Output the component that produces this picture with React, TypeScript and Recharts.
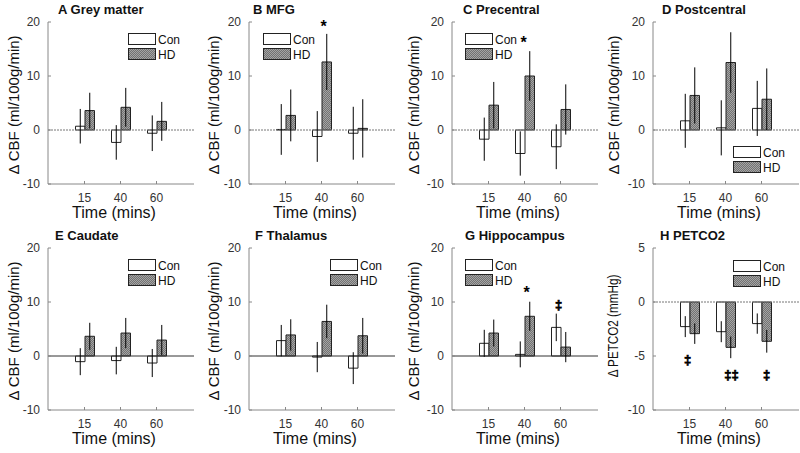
import React from 'react';
import { BarChart, Bar, XAxis, YAxis, ErrorBar, ReferenceLine, ReferenceDot } from 'recharts';

const FONT = '"Liberation Sans", Arial, Helvetica, sans-serif';

const times = ['15', '40', '60'];
const cbfTicks = [-10, 0, 10, 20];
const petTicks = [-10, -5, 0, 5];

// A Grey matter
const greyCon = [0.7, -2.3, -0.6];
const greyConErr = [3.2, 3.2, 3.3];
const greyHd = [3.6, 4.2, 1.6];
const greyHdErr = [3.3, 3.6, 3.6];
// B MFG
const mfgCon = [0.1, -1.2, -0.6];
const mfgConErr = [4.7, 4.7, 4.9];
const mfgHd = [2.7, 12.6, 0.3];
const mfgHdErr = [4.8, 5.2, 5.4];
// C Precentral
const preCon = [-1.7, -4.35, -3.1];
const preConErr = [4.0, 4.1, 4.15];
const preHd = [4.6, 10.0, 3.8];
const preHdErr = [4.3, 4.6, 4.65];
// D Postcentral
const postCon = [1.7, 0.4, 4.0];
const postConErr = [5.0, 5.1, 5.1];
const postHd = [6.4, 12.5, 5.7];
const postHdErr = [5.2, 5.6, 5.7];
// E Caudate
const caudCon = [-1.05, -0.85, -1.3];
const caudConErr = [2.5, 2.55, 2.6];
const caudHd = [3.65, 4.25, 2.95];
const caudHdErr = [2.5, 2.8, 2.8];
// F Thalamus
const thalCon = [2.85, -0.2, -2.25];
const thalConErr = [2.9, 2.8, 2.95];
const thalHd = [3.9, 6.4, 3.75];
const thalHdErr = [2.9, 3.1, 3.3];
// G Hippocampus
const hipCon = [2.35, 0.3, 5.3];
const hipConErr = [2.5, 2.4, 2.55];
const hipHd = [4.25, 7.35, 1.65];
const hipHdErr = [2.5, 2.7, 2.8];
// H PETCO2
const petCon = [-2.28, -2.75, -2.0];
const petConErr = [0.97, 0.97, 0.94];
const petHd = [-2.93, -4.2, -3.64];
const petHdErr = [0.95, 1.0, 1.05];

// significance markers: category, value, symbol
const mfgMarks = [{ t: '40', v: 19.8, s: '*' }];
const preMarks = [{ t: '40', v: 16.85, s: '*' }];
const hipMarks = [{ t: '40', v: 12.4, s: '*' }, { t: '60', v: 9.45, s: '‡' }];
const petMarks = [{ t: '15', v: -5.34, s: '‡' }, { t: '40', v: -6.8, s: '‡‡' }, { t: '60', v: -6.8, s: '‡' }];

type Mark = { t: string; v: number; s: string };
type Panel = {
  title: string;
  con: number[]; conErr: number[]; hd: number[]; hdErr: number[];
  yLabel: string; yLabelScale: number;
  domain: [number, number]; ticks: number[];
  marks: Mark[];
  layout: { titleX: number; left: number; legend: [number, number]; zeroSolid: boolean; markDx: number[]; labelDy: number };
};

const cbf = 'Δ CBF (ml/100g/min)';

const panels: Panel[] = [
  { title: 'A Grey matter', con: greyCon, conErr: greyConErr, hd: greyHd, hdErr: greyHdErr, yLabel: cbf, yLabelScale: 1, domain: [-10, 20], ticks: cbfTicks, marks: [],
    layout: { titleX: 58, left: 48, legend: [128, 33], zeroSolid: false, markDx: [], labelDy: 2 } },
  { title: 'B MFG', con: mfgCon, conErr: mfgConErr, hd: mfgHd, hdErr: mfgHdErr, yLabel: cbf, yLabelScale: 1, domain: [-10, 20], ticks: cbfTicks, marks: mfgMarks,
    layout: { titleX: 53, left: 49, legend: [63, 33], zeroSolid: false, markDx: [2], labelDy: 2 } },
  { title: 'C Precentral', con: preCon, conErr: preConErr, hd: preHd, hdErr: preHdErr, yLabel: cbf, yLabelScale: 1, domain: [-10, 20], ticks: cbfTicks, marks: preMarks,
    layout: { titleX: 63, left: 52, legend: [65, 33], zeroSolid: false, markDx: [-1], labelDy: 2 } },
  { title: 'D Postcentral', con: postCon, conErr: postConErr, hd: postHd, hdErr: postHdErr, yLabel: cbf, yLabelScale: 1, domain: [-10, 20], ticks: cbfTicks, marks: [],
    layout: { titleX: 62, left: 53, legend: [133, 146], zeroSolid: false, markDx: [], labelDy: 2 } },
  { title: 'E Caudate', con: caudCon, conErr: caudConErr, hd: caudHd, hdErr: caudHdErr, yLabel: cbf, yLabelScale: 1, domain: [-10, 20], ticks: cbfTicks, marks: [],
    layout: { titleX: 55, left: 48, legend: [128, 33], zeroSolid: true, markDx: [], labelDy: 2 } },
  { title: 'F Thalamus', con: thalCon, conErr: thalConErr, hd: thalHd, hdErr: thalHdErr, yLabel: cbf, yLabelScale: 1, domain: [-10, 20], ticks: cbfTicks, marks: [],
    layout: { titleX: 55, left: 49, legend: [130, 33], zeroSolid: true, markDx: [], labelDy: 2 } },
  { title: 'G Hippocampus', con: hipCon, conErr: hipConErr, hd: hipHd, hdErr: hipHdErr, yLabel: cbf, yLabelScale: 1, domain: [-10, 20], ticks: cbfTicks, marks: hipMarks,
    layout: { titleX: 65, left: 52, legend: [65, 33], zeroSolid: true, markDx: [2, -2], labelDy: 2 } },
  { title: 'H PETCO2', con: petCon, conErr: petConErr, hd: petHd, hdErr: petHdErr, yLabel: 'Δ PETCO2 (mmHg)', yLabelScale: 0.78, domain: [-10, 5], ticks: petTicks, marks: petMarks,
    layout: { titleX: 60, left: 53, legend: [133, 34], zeroSolid: false, markDx: [-2, 6, 5], labelDy: -3 } },
];

const PLOT_W = 146;
const CHART_H = 226;

const Hatch = ({ id }: { id: string }) => (
  <pattern id={id} patternUnits="userSpaceOnUse" width="2" height="2">
    <rect width="2" height="2" fill="#a4a4a4" />
    <path d="M-0.5,0.5 L0.5,-0.5 M0,2 L2,0 M1.5,2.5 L2.5,1.5" stroke="#666" strokeWidth="0.8" />
  </pattern>
);

const YTick = (props: any) => {
  const { x, y, payload } = props;
  return (
    <g>
      <line x1={x + 8} x2={x + 11} y1={y} y2={y} stroke="#888" />
      <text x={x} y={y} dy="0.36em" textAnchor="end" fontSize={12} fill="#333" fontFamily={FONT}>{payload.value}</text>
    </g>
  );
};

const XTick = (props: any) => {
  const { x, y, payload } = props;
  return (
    <g>
      <line x1={x} x2={x} y1={y - 9} y2={y - 12} stroke="#888" />
      <text x={x} y={y} dy="0.71em" textAnchor="middle" fontSize={12} fill="#333" fontFamily={FONT}>{payload.value}</text>
    </g>
  );
};

function PanelChart({ p, id }: { p: Panel; id: string }) {
  const data = times.map((t, i) => ({ t, con: p.con[i], conErr: p.conErr[i], hd: p.hd[i], hdErr: p.hdErr[i] }));
  const L = p.layout;
  const [lx, ly] = L.legend;
  return (
    <div style={{ position: 'relative', width: 200, height: CHART_H }}>
      <BarChart width={200} height={CHART_H} data={data}
        margin={{ top: 22, right: 200 - L.left - PLOT_W, bottom: 0, left: 0 }}
        barGap={0} barSize={9.5}>
        <defs>
          <Hatch id={id} />
        </defs>
        <XAxis dataKey="t" height={42} padding={{ left: 18.5, right: 19.5 }}
          tickLine={false} tickSize={0} tickMargin={9} stroke="#888" tick={XTick}
          label={(lp: any) => {
            const vb = lp.viewBox || { x: L.left, y: 184 };
            return (
              <text x={vb.x + 66} y={218} textAnchor="middle" fontSize={16} fill="#111" fontFamily={FONT}>Time (mins)</text>
            );
          }} />
        <YAxis type="number" width={L.left} domain={p.domain} ticks={p.ticks} allowDataOverflow
          tickLine={false} tickSize={0} tickMargin={8} stroke="#888" tick={YTick}
          label={(lp: any) => {
            const vb = lp.viewBox || { y: 22, height: 162 };
            const cy = vb.y + vb.height / 2 + L.labelDy;
            return (
              <text x={0} y={0} transform={`translate(13 ${cy}) rotate(-90) scale(${p.yLabelScale} 1)`} textAnchor="middle" dominantBaseline="central"
                fontSize={15} fill="#111" fontFamily={FONT}>{p.yLabel}</text>
            );
          }} />
        <ReferenceLine y={0} stroke={L.zeroSolid ? '#333' : '#777'} strokeDasharray={L.zeroSolid ? undefined : '2 1'} />
        <Bar dataKey="con" fill="#ffffff" stroke="#222" strokeWidth={1} isAnimationActive={false}>
          <ErrorBar dataKey="conErr" width={0} stroke="#000" strokeWidth={1} direction="y" />
        </Bar>
        <Bar dataKey="hd" fill={`url(#${id})`} stroke="#222" strokeWidth={1} isAnimationActive={false}>
          <ErrorBar dataKey="hdErr" width={0} stroke="#000" strokeWidth={1} direction="y" />
        </Bar>
        {p.marks.map((m, i) => {
          const dx = L.markDx[i] || 0;
          const isStar = m.s === '*';
          const fs = isStar ? 16 : 13;
          const up = isStar ? 0.57 * fs : 0.3 * fs;
          return (
            <ReferenceDot key={i} x={m.t} y={m.v} r={0} fill="none" stroke="none"
              label={(lp: any) => {
                const vb = lp.viewBox || { x: 0, y: 0 };
                return (
                  <text x={vb.x + dx} y={vb.y + up} textAnchor="middle" fontSize={fs} fontWeight="bold"
                    fill="#000" stroke={isStar ? 'none' : '#000'} strokeWidth={isStar ? 0 : 0.7}
                    fontFamily={FONT}>{m.s}</text>
                );
              }} />
          );
        })}
      </BarChart>
      <svg width={200} height={CHART_H} style={{ position: 'absolute', left: 0, top: 0, pointerEvents: 'none' }}>
        <defs>
          <Hatch id={id + 'L'} />
        </defs>
        <text x={L.titleX} y={13.5} fontSize={13} fontWeight="bold" fill="#111" fontFamily={FONT}>{p.title}</text>
        <rect x={lx + 0.5} y={ly + 0.5} width={27} height={11} fill="#fff" stroke="#222" />
        <text x={lx + 30} y={ly + 10.5} fontSize={12} fill="#111" fontFamily={FONT}>Con</text>
        <rect x={lx + 0.5} y={ly + 15.5} width={27} height={11} fill={`url(#${id}L)`} stroke="#222" />
        <text x={lx + 30} y={ly + 25.5} fontSize={12} fill="#111" fontFamily={FONT}>HD</text>
      </svg>
    </div>
  );
}

export default function App() {
  return (
    <div style={{ position: 'absolute', left: 0, top: 0, width: 800, height: 453, background: '#fff', overflow: 'hidden' }}>
      {panels.map((p, i) => (
        <div key={i} style={{ position: 'absolute', left: (i % 4) * 200, top: Math.floor(i / 4) * 226 }}>
          <PanelChart p={p} id={`hatch${i}`} />
        </div>
      ))}
    </div>
  );
}
